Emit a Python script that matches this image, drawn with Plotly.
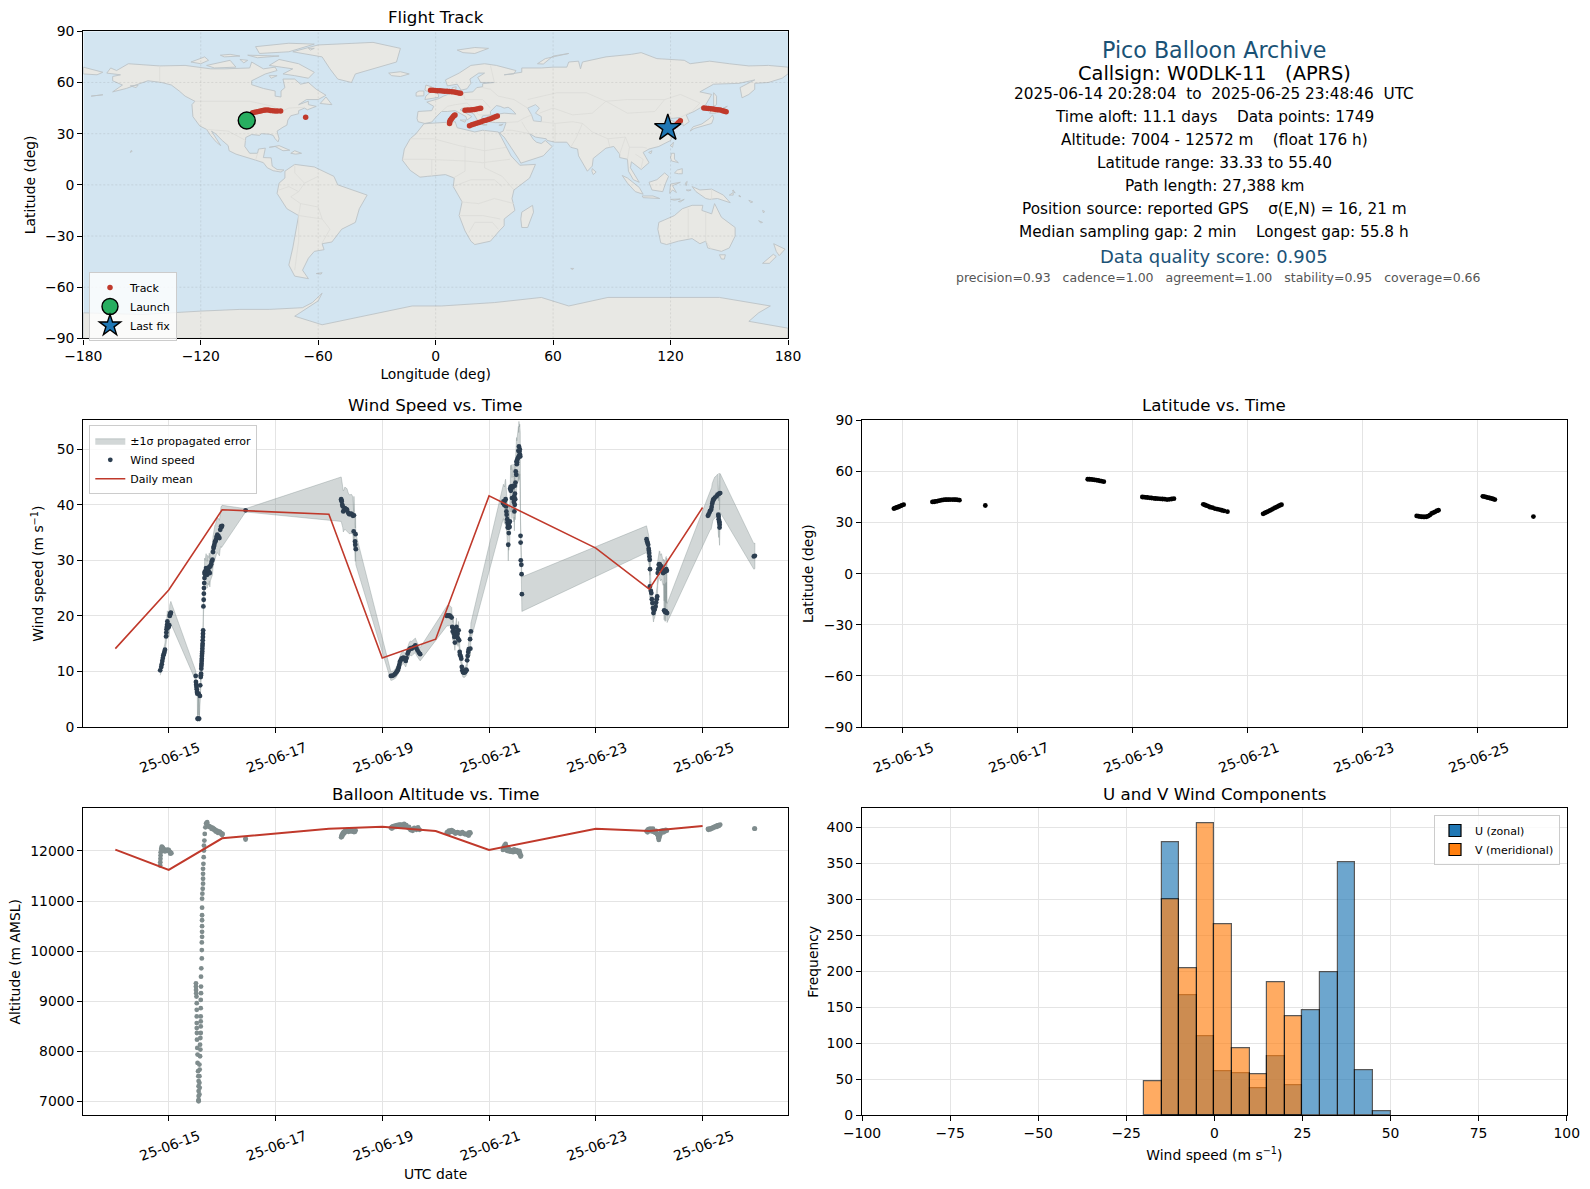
import pandas as pd
import plotly.graph_objects as go

# ---------- land outlines (lon, lat) ----------
north_america = [(-168,65.5),(-166,68.5),(-163,67),(-157,71),(-141,69.7),(-128,70),(-115,68),(-108,68),(-95,68.5),(-94,72),(-88,68),(-82,69),(-81,67),(-87,65),(-94,61),(-94,58.7),(-88,56.5),(-82,55),(-82,52),(-79,51.5),(-79,55),(-77,57),(-78,62),(-72,62),(-69,59),(-65,60),(-61,56),(-56,52.5),(-60,50),(-66,50),(-70,47),(-65,49),(-65,47),(-61,46),(-65.5,44),(-67,45),(-70,43.5),(-70,41.7),(-74,40.5),(-75.5,38),(-76,35),(-78,33.8),(-81,31.5),(-80,27),(-80.5,25.2),(-82,27),(-83,29),(-85,29.7),(-89,30),(-90,29),(-94,29.5),(-97,27.8),(-97.5,22.5),(-95,18.5),(-91,18.5),(-90.5,21),(-87,21.5),(-88,16),(-84,15.8),(-83.5,11),(-81,9),(-77.5,8.7),(-79,7.5),(-83,8.3),(-86,10),(-88,13),(-92,14.5),(-96,16),(-102,18),(-105.5,20),(-106,23),(-109,26),(-112.5,30),(-114.5,31.5),(-112,27),(-109.8,23),(-112,25),(-115,29),(-117,32.5),(-120.5,34.5),(-124,40),(-124.5,47),(-123,49),(-128,52),(-131,55),(-135,58.5),(-140,60),(-147,61),(-152,59),(-158,56.5),(-165,54.5),(-160,58.5),(-165,61),(-165,63.5),(-161,64.5)]
south_america = [(-77,8),(-72,12),(-62,10.5),(-52,5),(-50,0),(-44,-2.5),(-35,-6),(-39,-14),(-41,-22),(-48,-26),(-53,-33.5),(-58,-34.5),(-57,-38),(-62,-39),(-65,-43),(-68,-50),(-65,-55),(-72,-53.5),(-75,-47),(-73,-37),(-70,-18),(-76,-14),(-81,-5),(-80,1),(-77,4)]
africa = [(-6,35.8),(10,37),(11,33.5),(20,31),(24,32),(32,31),(33.5,28),(36,22),(38.5,17),(43,11.5),(51,12),(48,4),(40,-3),(39,-8),(40.5,-15),(35,-20),(35,-24),(32.5,-27),(28,-33),(20,-35),(18,-33),(15,-27),(12,-18),(13.5,-10),(9,-1),(9.5,4),(5,6),(-4,5),(-8,4.5),(-13,8.5),(-17,14.5),(-16,21),(-13,27),(-10,30)]
eurasia = [(-9,37),(-9.5,39),(-9,43),(-2,43.5),(-1,46),(-4.5,48.5),(1.5,50.5),(4,52),(8,53.8),(8.5,57),(10.5,57.5),(10,54.5),(14,54),(19,54.5),(21,57),(24,57.5),(24,59.3),(30,60),(23,60),(21.5,63),(25,65.5),(22,65.5),(17.5,62),(18,59.5),(16,56.3),(13,55.5),(11,59),(6,58),(5,61.5),(12,65.5),(18,70),(25,71),(31,70),(41,67),(40,65),(35,64.5),(44,66),(44,68.5),(54,68.5),(60,69),(67,69),(68,72),(73,72.5),(74,68),(75,72),(81,73.5),(87,75),(100,76.5),(105,77.5),(113,74),(127,73),(130,71),(140,72.5),(150,71),(160,69.7),(170,70),(180,69),(180,65),(177,62.5),(170,60),(163,59.5),(163,56),(160,53),(156.5,51),(155.5,57),(163,61.5),(155,59.5),(142,59),(135,54.5),(141,53),(138,47),(132,43),(128,41),(129.5,37),(126.5,34.5),(126,37.5),(125,39.5),(121.5,39),(118,39),(122,37),(119,35),(122,31),(120,26),(114,22.5),(109,21),(106,19),(109,13),(105,9),(103,11),(100,13.5),(99.5,10),(103,3.5),(104,1.5),(101,3),(98.5,8),(98,15),(94,16),(94,18),(91,22.5),(87,21.5),(80.5,15.5),(80,11),(77.5,8),(73,17),(72.5,21),(69,22),(67,25),(61,25),(57,26),(56.5,27),(51,28),(48,30),(50,26.5),(51.5,25),(54,24.2),(56,26),(59.5,22.5),(55,17),(45,13),(43.5,12.7),(42.5,15),(39,21),(35,28),(32.5,30.5),(34.5,31.5),(36,36.5),(30.5,36.5),(27,37),(26.5,40),(29,41),(35,42),(41,41.5),(39,44),(37,45.5),(35,45),(33,46),(31,46.5),(28,43),(28,41),(24,40.5),(23,38),(22.5,36.5),(21,38.5),(19.5,41.5),(14,45),(12.5,44),(18.5,40),(16,38),(15.5,40),(10,43.5),(6,43),(3,43),(0,39.5),(-2,36.8),(-5.5,36)]
antarctica = [(-180,-75),(-150,-76),(-120,-74),(-100,-73),(-85,-73),(-68,-72),(-63,-69),(-58,-63.5),(-60,-68),(-72,-77),(-58,-82),(-37,-77),(-12,-71),(3,-71),(30,-69),(54,-66),(68,-71),(88,-66),(103,-66),(145,-66),(171,-71),(165,-75),(160,-80),(180,-84),(180,-90),(-180,-90)]
greenland = [(-73,78),(-60,82),(-32,83.5),(-18,80),(-20,72),(-32,68),(-41,65),(-43,60),(-50,62),(-54,68),(-58,75)]
australia = [(114,-22),(113.5,-26),(115,-34),(118,-35),(124,-33),(131,-31.5),(135,-34.5),(138,-33),(139,-37),(146,-39),(150,-37),(153,-30),(153,-25),(146,-19),(142.5,-11),(141,-17),(136,-15),(136.5,-12),(131,-12),(126,-14),(122,-18)]
islands = [
    [(145,-41),(148,-41),(147.5,-43.5),(146,-43.5)],
    [(172.7,-34.5),(178.5,-37.7),(175.5,-41.5),(174,-39)],
    [(172.5,-40.7),(174,-42),(170.5,-46),(167,-46)],
    [(-5.5,50),(1.5,51.3),(1.5,53),(-1.5,55),(-2,57.5),(-5,58.5),(-5.5,55.5),(-3,54),(-5,52)],
    [(-10,52),(-6,52.2),(-6,55),(-8.5,55),(-10,54)],
    [(-24,65.5),(-18,66.3),(-13.5,65),(-18,63.5),(-22.5,64)],
    [(11,79),(20,80.5),(27,80),(20,77),(14,77.5)],
    [(52,71),(56,74),(68,77),(60,75.5),(55,70.8)],
    [(130,31.5),(131.5,34),(136,35.7),(140,39),(141.5,41),(142,39),(141,36),(137,34.5),(132,33)],
    [(140,42),(141.5,45.3),(145.5,43.5),(143,42)],
    [(142,46),(142,54),(143.5,52),(143.5,47)],
    [(120,23),(121.5,25),(121,22)],
    [(108.8,19),(110.5,20),(110,18.3)],
    [(120,16),(120.5,18.5),(122,18.5),(122,15),(124,13),(120.5,14)],
    [(122,7),(123.5,8.7),(126,9.5),(126,6.5),(124,6.5)],
    [(109,1.5),(113,3),(117,7),(119,5),(117.5,1),(116,-4),(110.5,-3)],
    [(95.3,5.5),(98,4),(104,-1.5),(106,-5.5),(102,-4),(98,1)],
    [(105.5,-6.5),(111,-6.5),(114.5,-8),(106,-7.5)],
    [(119.5,-5),(120,0.5),(125,1.5),(121,-0.5),(123,-4.5),(121,-3)],
    [(131,-1),(135,-3),(141,-2.5),(147,-6),(150.5,-10.5),(144,-8),(140,-8.5),(138,-8),(133,-4)],
    [(44,-16),(49.5,-12),(50,-16),(47,-25),(44,-25),(43.5,-20)],
    [(80,9.5),(82,7.5),(80.5,6),(79.8,8)],
    [(-85,22),(-80,23),(-74.5,20.3),(-78,20),(-82,22.5)],
    [(-74,18.5),(-72,20),(-68.5,18.5),(-71.5,18)],
    [(-80,73.5),(-70,71),(-62,66),(-65,62.5),(-72,64),(-78,65),(-73,68),(-85,70)],
    [(-117,70),(-105,73),(-102,69),(-113,68.5)],
    [(-125,72),(-118,75),(-116,73),(-120,71)],
    [(-90,77),(-75,78),(-62,82.5),(-75,83),(-92,81)],
    [(-96,76),(-80,75.5),(-91,74.5)],
    [(-59,47.7),(-56,51.5),(-53,47)],
    [(-61,-52),(-58,-51.5),(-58.5,-52.3)],
    [(-156,19),(-155,19.7),(-155.5,20.2)],
    [(69,-49),(70.5,-49),(70,-49.7)],
    [(-180,65),(-173,64.5),(-170,66),(-180,69)],
    [(150,-6),(152,-4.5),(152,-6)],
    [(160,-9),(162,-10),(161,-10.5)],
    [(165,-21),(167,-22),(166,-22.3)],
    [(12.5,38),(15.5,38),(15,36.7)],
    [(8.2,41),(9.7,41),(9.5,39),(8.5,39)],
    [(23.5,35.5),(26.3,35.2),(24.5,34.9)],
    [(32.3,35),(34.5,35.6),(33.5,34.7)],
    [(-110,76),(-105,76.5),(-100,75.5),(-108,75)],
    [(-100,73.5),(-96,73),(-98,71.5)],
    [(-85,64),(-81,64),(-84,62.5)],
    [(-65,80),(-62,80),(-64,79)],
    [(120,-8.5),(125,-8.3),(122,-9)],
    [(124,-9.8),(127,-8.5),(125,-10)],
    [(128,-3),(130.5,-3),(129,-3.6)],
    [(127.5,1),(128.5,2),(128,-0.5)],
    [(152,-3),(153,-4.8),(151.5,-3.5)],
    [(155,-6),(156,-7),(155,-6.8)],
    [(167,-15),(167.5,-16.5),(168,-15.5)],
    [(146,44.5),(148,45.5),(149,46)],
    [(-176,52),(-170,52.8),(-172,52.2)],
    [(-156,58),(-152,58.5),(-153,57)],
]
inland_water = [
    [(47,45),(51,47),(53,45),(51,42),(54,40),(54,37),(50,37.5),(49,41)],
]
country_borders = [
    [(-141,60),(-141,69.7)],
    [(-123,49),(-95,49),(-83,46),(-79,43),(-75,45),(-67,45.5)],
    [(-117,32.5),(-106,31.5),(-97,26)],
    [(-92,14.5),(-91,18.5)],
    [(-70,-18),(-58,-20),(-54,-26),(-58,-34)],
    [(-69,-11),(-74,-7),(-70,-4),(-67,1),(-60,5)],
    [(-70,-18),(-69,-11),(-60,-13),(-58,-20)],
    [(-70,-18),(-70,-33),(-72,-50)],
    [(-72,12),(-72,7),(-67,1)],
    [(-80,-3),(-75,-1),(-70,-4)],
    [(-13,27),(-1,27),(12,23),(25,20),(36,22)],
    [(25,32),(25,10),(34,5),(40,-3)],
    [(-17,15),(-5,15),(15,14),(24,13),(38,15)],
    [(9,4),(15,8),(15,23)],
    [(9,-1),(18,3),(30,3),(34,-1)],
    [(13,-10),(22,-11),(30,-8),(40,-11)],
    [(12,-18),(24,-18),(33,-20)],
    [(17,-28),(20,-22),(29,-22),(32,-26)],
    [(-2,5),(-2,15)],
    [(28,41),(22,41),(19,45),(16,48),(10,47),(6,46),(3,43)],
    [(8,54),(14,54),(15,50),(24,50),(28,45)],
    [(24,57),(28,56),(32,52),(40,50),(47,45)],
    [(30,60),(28,70)],
    [(36,36.5),(42,37),(45,39),(49,41)],
    [(36,32),(39,32),(48,30)],
    [(44,37),(46,33),(48,30)],
    [(54,37),(61,36),(61,25)],
    [(61,36),(70,37),(75,36),(72,28),(69,22)],
    [(53,42),(60,45),(70,41),(80,42),(87,49),(98,50),(117,50),(125,53),(135,48),(131,43)],
    [(47,50),(62,54),(77,54),(87,49)],
    [(87,49),(98,42),(112,43),(117,50)],
    [(75,36),(80,31),(88,27),(97,28),(99,22),(106,22),(108,21.5)],
    [(88,27),(89,22)],
    [(97,28),(94,18)],
    [(99,22),(98,15)],
    [(102,18),(106,15),(105,10)],
    [(125,39.5),(130,42.5)],
    [(141,-2.5),(141,-9)],
    [(129,-14),(129,-31.5)],
    [(138,-16),(138,-33),(141,-38)],
]

ocean_color = "#d3e5f1"
land_color = "#e8e8e4"

# ---------- flight track ----------
track_lon = [-93.5,-92.4,-91.2,-90,-88.9,-87.8,-86.8,-85.6,-84.4,-83.2,-82,-80.8,-79.2,-66.4,
             -2.6,-1.4,-0.2,1,2.2,3.4,4.6,5.8,7,8.2,9.4,10.6,11.8,12.7,
             15,16.2,17.4,18.6,19.8,21,22.2,23,
             7.1,7.2,7.5,8,8.5,9,9.5,9.9,
             17.3,18.5,19.7,20.9,22.1,23.3,24.5,25.7,26.9,28.1,29.3,30.5,31.5,
             121.7,122.5,123.3,124.1,125,
             137,138.2,139.4,140.6,141.8,143,144.2,145.4,146.6,147.6,148.4]
track_lat = [42.3,42.6,42.9,43.2,43.4,43.7,43.9,43.8,43.6,43.4,43.3,43.3,43.3,39.6,
             55.4,55.4,55.3,55.2,55.1,55,54.9,54.8,54.7,54.6,54.4,54.2,53.9,53.7,
             43.7,43.8,43.9,44,44.1,44.4,44.7,44.9,
             36,37,37.8,38.6,39.3,40,40.6,41,
             34.7,35.2,35.7,36.1,36.6,37,37.5,37.9,38.3,38.8,39.3,39.9,40.4,
             34,34.8,35.6,36.6,37.6,
             45,44.9,44.8,44.6,44.4,44.2,44,43.8,43.5,43.2,42.9]
launch_lon = [-96.5]
launch_lat = [37.7]
last_lon = [118.6]
last_lat = [33.33]
map_lon_ticks = [-180,-120,-60,0,60,120,180]
map_lat_ticks = [-90,-60,-30,0,30,60,90]

# ---------- wind speed ----------
wind_day = [14.84,14.86,14.87,14.88,14.89,14.90,14.91,14.92,14.93,14.95,14.955,14.96,14.965,14.97,14.975,14.98,14.985,14.995,15.0,15.01,15.02,15.025,15.03,15.035,15.04,
            15.506,15.51,15.515,15.52,15.525,15.53,15.535,15.54,15.55,15.56,15.57,15.585,15.59,15.60,15.602,15.606,15.61,15.612,15.615,15.618,15.62,15.622,15.625,15.628,15.63,15.632,15.635,15.637,15.64,15.642,15.645,
            15.65,15.655,15.658,15.66,15.665,15.67,15.672,15.675,15.68,15.69,15.70,15.71,15.72,15.73,15.75,15.76,15.77,15.78,15.795,15.805,15.82,15.83,15.84,15.845,15.855,15.865,15.875,15.885,15.895,15.91,15.92,15.935,15.95,15.965,15.98,15.99,16.0,
            16.44,
            18.23,18.235,18.24,18.25,18.26,18.27,18.285,18.30,18.32,18.34,18.36,18.38,18.40,18.415,18.43,18.45,18.465,18.47,18.49,18.495,18.50,18.505,
            19.16,19.18,19.21,19.235,19.26,19.275,19.29,19.30,19.31,19.32,19.33,19.345,19.36,19.38,19.40,19.42,19.44,19.455,19.475,19.49,19.51,19.53,19.55,19.57,19.595,19.62,19.64,19.66,19.685,19.71,
            20.21,20.22,20.24,20.26,20.28,20.30,20.31,20.32,20.33,20.34,20.35,20.36,20.37,20.38,20.39,20.40,20.41,20.42,20.43,20.44,20.45,20.455,20.47,20.48,20.49,20.5,20.51,20.52,20.53,20.54,20.55,20.56,20.57,20.58,20.59,20.6,20.61,20.62,20.645,20.65,20.66,
            21.26,21.27,21.28,21.29,21.30,21.31,21.32,21.325,21.33,21.34,21.345,21.35,21.355,21.36,21.365,21.37,21.375,21.385,21.39,21.395,21.405,21.41,21.42,21.43,21.44,21.45,21.46,21.465,21.47,21.475,21.48,21.482,21.485,21.49,21.495,21.5,21.51,21.515,21.52,21.525,21.53,21.54,21.55,21.555,21.56,21.565,21.57,21.575,21.58,21.585,21.59,21.592,21.595,21.605,21.61,21.615,
            23.95,23.96,23.97,23.98,23.99,23.995,24.0,24.005,24.01,24.012,24.015,24.03,24.04,24.05,24.06,24.07,24.08,24.09,24.10,24.12,24.13,24.14,24.15,24.16,24.17,24.18,24.19,24.2,24.21,24.23,24.24,24.25,24.26,24.27,24.28,24.29,24.292,24.30,24.31,24.312,24.32,24.322,24.33,24.335,
            25.10,25.11,25.13,25.14,25.16,25.17,25.18,25.19,25.2,25.21,25.23,25.26,25.28,25.295,25.30,25.302,25.31,25.312,25.315,25.318,25.32,25.33,
            25.96,25.98]
wind_speed = [10.2,10.8,11.3,11.9,12.4,12.9,13.2,13.5,13.9,16.3,17.0,17.6,18.0,18.4,19.0,18.2,17.9,18.4,18.0,18.3,20.0,20.2,20.4,20.5,20.6,
              9.2,8.1,7.6,7.2,6.8,6.3,6.0,1.5,1.5,6.0,1.5,5.6,7.5,9.0,9.3,9.6,10.5,11.0,11.4,11.9,12.3,12.8,13.2,13.6,14.1,14.6,15.0,15.6,16.2,16.8,17.4,
              21.7,22.9,24.0,25.0,25.9,26.8,27.7,27.9,27.5,28.1,28.6,28.3,27.4,28.4,28.0,28.8,27.7,28.9,29.3,29.8,30.1,31.5,32.2,32.5,32.8,33.3,33.4,33.7,34.2,34.6,34.4,34.3,34.0,35.5,36.1,36.0,36.2,
              39.0,
              41.0,40.8,40.6,40.0,39.7,38.8,39.0,39.4,39.2,39.1,38.6,38.3,38.3,38.4,38.3,38.0,35.2,38.1,33.4,32.8,34.7,32.0,
              9.2,9.2,9.3,9.5,9.8,10.0,10.2,10.5,10.8,11.2,11.7,12.0,12.3,12.4,12.5,12.2,11.9,12.4,13.2,13.6,14.0,14.2,14.1,14.3,14.4,14.7,14.2,13.8,13.4,13.1,
              20.0,20.1,20.0,20.1,19.9,19.7,18.0,17.2,17.8,16.8,16.2,15.2,16.5,17.2,18.0,16.2,16.8,15.9,17.4,15.6,13.5,13.0,12.7,12.3,10.8,10.2,9.9,9.8,10.0,9.8,9.9,10.0,10.3,10.2,12.0,12.8,13.5,14.0,15.8,14.1,17.2,
              40.3,40.6,40.2,39.9,40.7,41.0,39.7,38.8,38.2,37.4,36.8,35.9,36.4,32.8,35.9,34.9,36.7,36.0,37.0,42.9,43.2,42.5,43.3,41.2,43.1,43.4,41.3,40.5,41.5,38.8,43.4,40.0,42.0,41.0,44.0,46.0,45.4,47.8,47.3,47.6,48.1,48.4,49.7,48.6,50.5,48.9,49.6,50.0,49.0,48.7,34.4,33.2,30.0,29.2,27.5,23.9,
              33.8,33.4,33.1,32.8,32.1,31.7,31.3,30.7,30.1,25.3,28.4,24.5,24.1,23.0,22.3,21.4,20.5,21.0,21.2,21.7,22.4,23.0,23.5,27.7,28.4,29.2,29.3,29.2,28.6,28.9,28.5,28.1,27.7,28.0,21.0,27.9,20.8,20.7,28.2,20.8,28.4,20.6,28.1,20.5,
              38.0,38.2,38.6,38.9,39.1,39.6,40.2,40.6,40.9,41.0,41.3,41.5,41.8,38.2,37.9,37.4,42.0,37.0,36.8,35.9,36.4,42.1,
              30.7,30.8]
wind_sigma = [0.9,0.9,1.0,1.0,1.0,1.1,1.1,1.2,1.2,1.5,1.6,1.7,1.7,1.8,1.9,1.8,1.8,1.8,1.8,1.8,2.0,2.0,2.0,2.0,2.0,
              0.9,0.8,0.8,0.7,0.7,0.6,0.6,0.6,0.6,0.6,0.6,0.6,0.7,0.8,0.9,0.9,1.0,1.0,1.0,1.1,1.1,1.2,1.2,1.3,1.3,1.4,1.4,1.5,1.5,1.6,1.6,
              1.9,2.0,2.1,2.2,2.3,2.4,2.5,2.5,2.5,2.5,2.6,2.5,2.4,2.5,2.5,2.5,2.5,2.6,2.6,2.7,2.7,2.8,2.9,3.0,3.0,3.0,3.0,3.1,3.1,3.2,3.2,3.2,3.2,3.4,3.6,3.7,3.7,
              0.3,
              4.0,4.0,3.9,3.8,3.8,3.7,3.7,3.8,3.8,3.8,3.6,3.5,3.5,3.5,3.5,3.4,3.2,3.4,3.0,3.0,3.1,2.8,
              0.8,0.8,0.8,0.8,0.9,0.9,0.9,0.9,1.0,1.0,1.1,1.1,1.1,1.1,1.1,1.1,1.1,1.1,1.2,1.2,1.3,1.3,1.3,1.3,1.3,1.3,1.3,1.2,1.2,1.2,
              1.8,1.8,1.8,1.8,1.8,1.8,1.6,1.6,1.6,1.5,1.5,1.4,1.5,1.5,1.6,1.5,1.5,1.4,1.6,1.4,1.2,1.2,1.1,1.1,1.0,0.9,0.9,0.9,0.9,0.9,0.9,0.9,0.9,0.9,1.1,1.2,1.2,1.3,1.4,1.3,1.5,
              3.0,3.1,3.2,3.3,3.5,3.6,3.5,3.4,3.4,3.4,3.3,3.3,3.3,2.9,3.3,3.1,3.3,3.3,3.3,3.8,3.9,3.8,3.9,3.7,3.9,3.9,3.7,3.6,3.7,3.5,3.9,3.6,3.8,3.7,4.0,4.1,4.0,4.3,4.2,4.3,4.3,4.4,4.4,4.4,4.5,4.4,4.4,4.5,4.4,4.3,3.1,3.0,2.7,2.6,2.9,3.1,
              2.4,2.4,2.4,2.4,2.4,2.3,2.3,2.3,2.2,2.0,2.2,2.0,1.9,1.9,1.8,1.7,1.6,1.6,1.6,1.7,1.7,1.8,1.9,2.2,2.3,2.4,2.4,2.4,2.3,2.3,2.3,2.2,2.2,2.2,1.7,2.2,1.7,1.7,2.3,1.7,2.3,1.7,2.3,1.7,
              3.4,3.4,3.4,3.5,3.5,3.5,3.6,3.6,3.6,3.6,3.7,3.7,3.7,3.4,3.4,3.3,3.7,3.3,3.3,3.2,3.3,3.5,
              2.3,2.3]
mean_day = [14,15,16,18,19,20,21,23,24,25]
mean_wind = [14.1,24.65,39.1,38.3,12.4,15.8,41.6,32.2,24.8,39.5]
mean_alt = [12026,11622,12252,12440,12483,12395,12020,12440,12395,12495]

# ---------- latitude ----------
lat_day = [14.85,14.87,14.89,14.91,14.93,14.95,14.97,14.99,15.02,
           15.52,15.55,15.58,15.61,15.64,15.68,15.71,15.74,15.77,15.8,15.83,15.87,15.9,15.93,15.96,15.99,
           16.44,
           18.22,18.25,18.28,18.31,18.34,18.37,18.4,18.43,18.46,18.5,
           19.17,19.2,19.23,19.26,19.3,19.33,19.37,19.4,19.44,19.48,19.52,19.56,19.6,19.64,19.68,19.72,
           20.23,20.26,20.29,20.32,20.35,20.39,20.43,20.47,20.51,20.55,20.59,20.65,
           21.27,21.3,21.33,21.36,21.39,21.42,21.45,21.48,21.51,21.54,21.57,21.59,
           23.94,23.97,24.0,24.03,24.06,24.08,24.11,24.14,24.17,24.2,24.23,24.26,24.29,24.32,
           25.09,25.12,25.15,25.18,25.21,25.24,25.27,25.3,
           25.97]
lat_deg = [38.2,38.4,38.7,39.0,39.2,39.5,39.8,40.1,40.5,
           42.1,42.2,42.4,42.6,42.8,43.1,43.3,43.4,43.4,43.5,43.5,43.5,43.5,43.4,43.3,43.1,
           40.0,
           55.4,55.4,55.3,55.2,55.0,54.9,54.7,54.5,54.3,54.0,
           45.0,44.9,44.8,44.7,44.5,44.4,44.2,44.1,44.0,43.9,43.8,43.7,43.5,43.6,43.8,44.0,
           40.7,40.3,39.9,39.5,39.0,38.7,38.2,37.9,37.6,37.2,36.9,36.4,
           35.1,35.6,36.1,36.6,37.1,37.6,38.2,38.7,39.2,39.7,40.2,40.5,
           33.9,33.7,33.5,33.4,33.3,33.3,33.4,33.8,34.4,35.3,35.8,36.3,36.8,37.2,
           45.4,45.2,44.9,44.6,44.4,44.1,43.8,43.5,
           33.5]
lat_ticks = [-90,-60,-30,0,30,60,90]

# ---------- altitude ----------
alt_day = [14.84,14.842,14.845,14.847,14.85,14.86,14.87,14.88,14.89,14.905,14.92,14.94,14.96,14.985,15.01,15.03,15.05,14.87,14.9,14.93,14.97,15.0,15.03,
           15.51,15.51,15.512,15.515,15.52,15.525,15.525,15.525,15.525,15.525,15.528,15.53,15.535,15.54,15.54,15.55,15.555,15.56,15.56,15.56,15.56,15.56,15.56,15.56,
           15.575,15.58,15.575,15.575,15.58,15.575,15.587,15.593,15.587,15.593,15.6,15.6,15.6,15.6,15.6,15.6,15.605,15.605,15.605,15.61,15.62,15.62,15.62,15.625,15.625,15.625,15.625,15.625,15.625,15.625,15.63,15.637,15.643,15.643,15.643,15.643,15.65,15.655,15.66,15.66,15.668,15.675,15.687,15.70,
           15.72,15.737,15.755,15.775,15.80,15.825,15.85,15.875,15.90,15.92,15.94,15.96,15.985,16.01,15.72,15.75,15.8,15.85,15.88,15.92,15.97,16.0,
           16.44,16.44,
           18.23,18.24,18.25,18.26,18.27,18.28,18.295,18.31,18.33,18.35,18.375,18.40,18.42,18.44,18.46,18.48,18.50,18.24,18.25,18.27,18.29,18.31,18.34,18.37,18.4,18.44,18.47,18.49,
           19.16,19.18,19.2,19.225,19.25,19.275,19.3,19.325,19.35,19.375,19.4,19.425,19.45,19.475,19.5,19.525,19.55,19.575,19.6,19.625,19.65,19.675,19.7,19.18,19.22,19.26,19.3,19.33,19.37,19.41,19.45,19.5,19.53,19.57,19.6,19.64,19.67,
           20.21,20.23,20.25,20.27,20.29,20.31,20.33,20.36,20.39,20.42,20.45,20.48,20.51,20.54,20.57,20.6,20.62,20.645,20.65,20.24,20.26,20.3,20.33,20.37,20.41,20.46,20.5,20.55,20.6,20.62,
           21.26,21.275,21.29,21.31,21.32,21.33,21.345,21.36,21.375,21.39,21.405,21.42,21.44,21.46,21.48,21.5,21.525,21.55,21.58,21.585,21.59,21.6,21.3,21.34,21.38,21.41,21.45,21.47,21.52,21.56,21.57,
           23.95,23.965,23.98,24.0,24.02,24.035,24.05,24.065,24.08,24.1,24.12,24.135,24.15,24.16,24.17,24.175,24.18,24.19,24.2,24.215,24.23,24.245,24.26,24.28,24.3,24.33,23.97,24.0,24.04,24.07,24.1,24.13,24.18,24.22,24.27,24.31,
           25.10,25.12,25.14,25.16,25.18,25.2,25.22,25.24,25.26,25.28,25.3,25.33,25.11,25.15,25.19,25.23,25.27,25.31,
           25.97,25.98]
alt_m = [11709,11775,11841,11910,11974,12040,12086,12075,12060,12040,12020,12012,12007,12000,11993,11975,11954,12040,12010,11990,12025,12020,11945,
         9358,9292,9226,9160,9094,8961,8829,8697,8564,8465,8366,8233,8068,7935,7770,7604,7505,7406,7306,7207,7108,7028,7020,7004,
         7141,7273,7373,7505,7637,7737,7902,8035,8134,8266,8366,8498,8597,8697,8862,9027,9160,9292,9491,9657,9855,10021,10173,10285,10385,10497,10616,10716,10868,11047,11146,11245,11345,11444,11543,11643,11742,11874,12007,12106,12205,12338,12470,12549,
         12572,12503,12495,12483,12470,12457,12437,12417,12405,12391,12385,12377,12355,12338,12530,12480,12440,12415,12385,12360,12345,12315,
         12250,12225,
         12270,12310,12330,12350,12365,12375,12390,12405,12415,12420,12405,12395,12390,12390,12390,12395,12410,12280,12290,12335,12350,12380,12395,12380,12420,12410,12375,12380,
         12460,12480,12490,12500,12505,12515,12520,12525,12525,12518,12510,12500,12490,12470,12450,12440,12430,12435,12440,12445,12450,12440,12420,12445,12470,12480,12490,12495,12490,12540,12515,12480,12415,12400,12460,12420,12470,
         12371,12385,12404,12400,12392,12384,12376,12368,12358,12358,12358,12355,12352,12345,12338,12330,12305,12371,12350,12350,12370,12415,12395,12345,12375,12340,12375,12330,12315,12365,
         12020,12080,12110,12139,12100,12060,12048,12040,12030,12020,12015,12010,12005,11998,11992,11990,11982,11975,11960,11925,11887,11905,12030,12000,11990,11985,11975,12030,12015,11950,12000,
         12390,12410,12430,12437,12440,12437,12425,12400,12380,12371,12360,12350,12338,12310,12280,12250,12218,12260,12300,12340,12380,12395,12410,12404,12390,12404,12370,12400,12390,12445,12390,12400,12330,12400,12370,12420,
         12437,12440,12445,12450,12458,12470,12480,12490,12500,12510,12515,12523,12420,12430,12450,12470,12480,12500,
         12444,12444]
alt_ticks = [7000,8000,9000,10000,11000,12000]

# ---------- histogram ----------
u_bin_left = [-15,-10,-5,0,5,10,15,20,25,30,35,40,45]
u_count = [379,167,110,61,58,37,82,41,146,198,351,62,5]
v_bin_left = [-20,-15,-10,-5,0,5,10,15,20]
v_count = [47,300,204,405,265,93,57,185,137]
hist_x_ticks = [-100,-75,-50,-25,0,25,50,75,100]
hist_y_ticks = [0,50,100,150,200,250,300,350,400]

# ---------- summary text ----------
info_title = "Pico Balloon Archive"
info_callsign = "Callsign: W0DLK-11\u00a0\u00a0\u00a0(APRS)"
info_lines = ["2025-06-14 20:28:04\u00a0\u00a0to\u00a0\u00a02025-06-25 23:48:46\u00a0\u00a0UTC",
              "Time aloft: 11.1 days\u00a0\u00a0\u00a0\u00a0Data points: 1749",
              "Altitude: 7004 - 12572 m\u00a0\u00a0\u00a0\u00a0(float 176 h)",
              "Latitude range: 33.33 to 55.40",
              "Path length: 27,388 km",
              "Position source: reported GPS\u00a0\u00a0\u00a0\u00a0\u03c3(E,N) = 16, 21 m",
              "Median sampling gap: 2 min\u00a0\u00a0\u00a0\u00a0Longest gap: 55.8 h"]
info_score = "Data quality score: 0.905"
info_parts = "precision=0.93\u00a0\u00a0\u00a0cadence=1.00\u00a0\u00a0\u00a0agreement=1.00\u00a0\u00a0\u00a0stability=0.95\u00a0\u00a0\u00a0coverage=0.66"

# ---------- helpers ----------
W, H = 1590, 1189
FONT = "DejaVu Sans"
TICK = 13.9
COL_X = [(83.3, 788.0), (862.0, 1566.7)]
ROW_Y = [(31.3, 338.4), (420.3, 727.0), (808.3, 1115.2)]
DATE_RANGE = ["2025-06-13 09:36", "2025-06-26 14:24"]
LAT_DATE_RANGE = ["2025-06-14 07:06", "2025-06-26 13:10"]
GRID = "#e4e4e4"

def to_time(days):
    return [pd.Timestamp("2025-06-01") + pd.Timedelta(days=d - 1) for d in days]

def polys(shapes):
    xs, ys = [], []
    for s in shapes:
        xs += [p[0] for p in s] + [s[0][0], None]
        ys += [p[1] for p in s] + [s[0][1], None]
    return xs, ys

def xdom(c): return [COL_X[c][0] / W, COL_X[c][1] / W]
def ydom(r): return [1 - ROW_Y[r][1] / H, 1 - ROW_Y[r][0] / H]

def base_axis(**kw):
    d = dict(showline=True, mirror=True, linecolor="black", linewidth=1.2,
             ticks="outside", ticklen=5, tickwidth=1, tickcolor="black",
             showgrid=True, gridcolor=GRID, gridwidth=1, zeroline=False, automargin=False,
             tickformat="d",
             tickfont=dict(family=FONT, size=TICK, color="black"),
             title_font=dict(family=FONT, size=TICK, color="black"))
    d.update(kw)
    return d

def date_axis(c, anchor, rng, title=None):
    return base_axis(domain=xdom(c), anchor=anchor, type="date", range=rng,
                     tick0="2025-06-15", dtick=2 * 86400000, tickformat="%y-%m-%d",
                     tickangle=-20, ticklabelshift=30, ticklabelstandoff=2, title_text=title, title_standoff=6)

fig = go.Figure()

# map
land_x, land_y = polys([north_america, south_america, africa, eurasia, antarctica, greenland, australia] + islands)
fig.add_trace(go.Scatter(x=land_x, y=land_y, mode="lines", fill="toself", fillcolor=land_color,
                         line=dict(color="#bcc3c6", width=0.9), hoverinfo="skip", showlegend=False))
water_x, water_y = polys(inland_water)
fig.add_trace(go.Scatter(x=water_x, y=water_y, mode="lines", fill="toself", fillcolor=ocean_color,
                         line=dict(color="#bcc3c6", width=0.8), hoverinfo="skip", showlegend=False))
border_x, border_y = [], []
for b in country_borders:
    border_x += [p[0] for p in b] + [None]
    border_y += [p[1] for p in b] + [None]
fig.add_trace(go.Scatter(x=border_x, y=border_y, mode="lines", line=dict(color="#dcdcd8", width=0.8),
                         hoverinfo="skip", showlegend=False))
grid_x, grid_y = [], []
for v in map_lon_ticks[1:-1]:
    grid_x += [v, v, None]; grid_y += [-90, 90, None]
for v in map_lat_ticks[1:-1]:
    grid_x += [-180, 180, None]; grid_y += [v, v, None]
fig.add_trace(go.Scatter(x=grid_x, y=grid_y, mode="lines", line=dict(color="rgba(110,110,110,0.22)", width=0.7, dash="2px,2px"),
                         hoverinfo="skip", showlegend=False))
fig.add_trace(go.Scatter(x=track_lon, y=track_lat, mode="markers", name="Track", legend="legend",
                         marker=dict(color="#c0392b", size=5.5)))
fig.add_trace(go.Scatter(x=launch_lon, y=launch_lat, mode="markers", name="Launch", legend="legend",
                         marker=dict(color="#27ae60", size=17, line=dict(color="black", width=1.4))))
fig.add_trace(go.Scatter(x=last_lon, y=last_lat, mode="markers", name="Last fix", legend="legend",
                         marker=dict(color="#1f77b4", size=20, symbol="star", line=dict(color="black", width=1.4))))

# wind
order = sorted(range(len(wind_day)), key=lambda i: wind_day[i])
sd = [wind_day[i] for i in order]
up = [wind_speed[i] + wind_sigma[i] for i in order]
lo = [wind_speed[i] - wind_sigma[i] for i in order]
fig.add_trace(go.Scatter(x=to_time(sd + sd[::-1]), y=up + lo[::-1], xaxis="x2", yaxis="y2", mode="lines",
                         fill="toself", fillcolor="rgba(127,140,141,0.35)", line=dict(color="rgba(127,140,141,0.35)", width=1),
                         name="\u00b11\u03c3 propagated error", legend="legend2", hoverinfo="skip"))
fig.add_trace(go.Scatter(x=to_time(wind_day), y=wind_speed, xaxis="x2", yaxis="y2", mode="markers",
                         marker=dict(color="#2c3e50", size=4.8), name="Wind speed", legend="legend2"))
fig.add_trace(go.Scatter(x=to_time(mean_day), y=mean_wind, xaxis="x2", yaxis="y2", mode="lines",
                         line=dict(color="#c0392b", width=1.6), name="Daily mean", legend="legend2"))

# latitude
fig.add_trace(go.Scatter(x=to_time(lat_day), y=lat_deg, xaxis="x3", yaxis="y3", mode="markers",
                         marker=dict(color="black", size=4.8), showlegend=False))

# altitude
fig.add_trace(go.Scatter(x=to_time(alt_day), y=alt_m, xaxis="x4", yaxis="y4", mode="markers",
                         marker=dict(color="#7f8c8d", size=4.8), showlegend=False))
fig.add_trace(go.Scatter(x=to_time(mean_day), y=mean_alt, xaxis="x4", yaxis="y4", mode="lines",
                         line=dict(color="#c0392b", width=2), showlegend=False))

# histogram
fig.add_trace(go.Bar(x=[b + 2.5 for b in u_bin_left], y=u_count, width=5, xaxis="x5", yaxis="y5",
                     name="U (zonal)", legend="legend3",
                     marker=dict(color="#1f77b4", opacity=0.65, line=dict(color="black", width=1.2))))
fig.add_trace(go.Bar(x=[b + 2.5 for b in v_bin_left], y=v_count, width=5, xaxis="x5", yaxis="y5",
                     name="V (meridional)", legend="legend3",
                     marker=dict(color="#ff7f0e", opacity=0.65, line=dict(color="black", width=1.2))))

def txt(s, y, size, color="black", x=None):
    return dict(text=s, x=x, y=1 - y / H, xref="paper", yref="paper", xanchor="center", yanchor="middle",
                showarrow=False, font=dict(family=FONT, size=size, color=color))

cx1 = (COL_X[0][0] + COL_X[0][1]) / 2 / W
cx2 = (COL_X[1][0] + COL_X[1][1]) / 2 / W
anns = [txt("Flight Track", 17.5, 16.67, x=cx1), txt("Wind Speed vs. Time", 405.5, 16.67, x=cx1),
        txt("Latitude vs. Time", 405.5, 16.67, x=cx2), txt("Balloon Altitude vs. Time", 794.5, 16.67, x=cx1),
        txt("U and V Wind Components", 794.5, 16.67, x=cx2)]
anns.append(txt(info_title, 50, 22.2, "#1a5276", x=cx2))
anns.append(txt(info_callsign, 73, 19.4, x=cx2))
for s, y in zip(info_lines, [94, 117.3, 140, 163.3, 186, 209.3, 232]):
    anns.append(txt(s, y, 15.3, x=cx2))
anns.append(txt(info_score, 256.7, 18, "#1a5276", x=cx2))
anns.append(txt(info_parts, 278, 12.5, "#555555", x=cx2 + 3.8 / W))

def legend(x, y, size, **kw):
    return dict(x=x / W, y=1 - y / H, xanchor="left", yanchor="top", bgcolor="rgba(255,255,255,0.8)",
                bordercolor="#cccccc", borderwidth=1, font=dict(family=FONT, size=size, color="black"), **kw)

fig.update_layout(
    width=W, height=H, margin=dict(l=0, r=0, t=0, b=0), paper_bgcolor="white", plot_bgcolor="white",
    barmode="overlay", bargap=0, annotations=anns, showlegend=True,
    legend=legend(89, 272, 11, itemsizing="trace", tracegroupgap=0),
    legend2=legend(89.3, 425.3, 11, itemsizing="trace"),
    legend3=legend(1434, 815, 11, itemsizing="trace"),
    xaxis=base_axis(domain=xdom(0), anchor="y", range=[-180, 180], tickvals=map_lon_ticks, showgrid=False,
                    title_text="Longitude (deg)", title_standoff=6),
    yaxis=base_axis(domain=ydom(0), anchor="x", range=[-90, 90], tickvals=map_lat_ticks, showgrid=False,
                    title_text="Latitude (deg)", title_standoff=6),
    xaxis2=date_axis(0, "y2", DATE_RANGE),
    yaxis2=base_axis(domain=ydom(1), anchor="x2", range=[0, 55.2], dtick=10, title_text="Wind speed (m s<sup>\u22121</sup>)", title_standoff=9),
    xaxis3=date_axis(1, "y3", LAT_DATE_RANGE),
    yaxis3=base_axis(domain=ydom(1), anchor="x3", range=[-90, 90], tickvals=lat_ticks, title_text="Latitude (deg)", title_standoff=6),
    xaxis4=date_axis(0, "y4", DATE_RANGE, title="UTC date"),
    yaxis4=base_axis(domain=ydom(2), anchor="x4", range=[6726, 12850], tickvals=alt_ticks, title_text="Altitude (m AMSL)", title_standoff=6),
    xaxis5=base_axis(domain=xdom(1), anchor="y5", range=[-100, 100], tickvals=hist_x_ticks, title_text="Wind speed (m s<sup>\u22121</sup>)", title_standoff=10),
    yaxis5=base_axis(domain=ydom(2), anchor="x5", range=[0, 426.5], tickvals=hist_y_ticks, title_text="Frequency", title_standoff=4),
)
# the map panel is the only one with an ocean background
fig.add_shape(type="rect", xref="x", yref="y", x0=-180, x1=180, y0=-90, y1=90, fillcolor=ocean_color, line_width=0, layer="below")

fig.write_html("out.html", config=dict(displayModeBar=False),
               post_script="document.body.style.margin='0';document.documentElement.style.overflow='hidden';")
